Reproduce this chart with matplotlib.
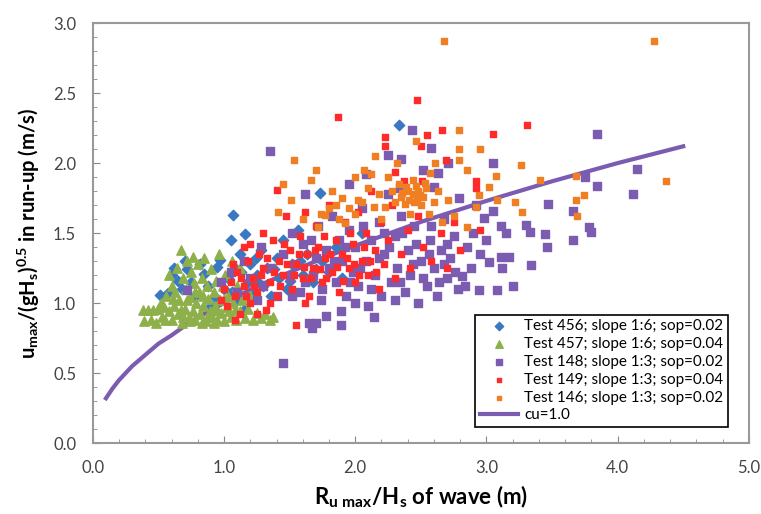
import numpy as np
import matplotlib
matplotlib.use("Agg")
import matplotlib.pyplot as plt

plt.rcParams['font.family'] = ['Lato', 'DejaVu Sans']
plt.rcParams['mathtext.fontset'] = 'custom'
plt.rcParams['mathtext.rm'] = 'Lato:bold'
plt.rcParams['mathtext.it'] = 'Lato:bold'
plt.rcParams['mathtext.bf'] = 'Lato:bold'
plt.rcParams['mathtext.default'] = 'rm'

# Test 456; slope 1:6; sop=0.02 (x, y)
test456 = np.array([
    (0.51, 1.06), (0.57, 1.07), (0.60, 1.20), (0.65, 1.16), (0.68, 1.10), (0.72, 1.24),
    (0.75, 1.15), (0.78, 1.05), (0.82, 1.28), (0.85, 1.21), (0.88, 1.12), (0.93, 1.04),
    (0.95, 1.26), (0.97, 1.31), (1.00, 1.10), (1.03, 1.18), (1.05, 1.45), (1.07, 1.63),
    (1.08, 1.25), (1.10, 1.02), (1.12, 1.35), (1.16, 1.49), (1.18, 1.15), (1.20, 1.28),
    (1.22, 1.06), (1.25, 1.20), (1.28, 1.38), (1.30, 1.12), (1.33, 1.25), (1.36, 1.05),
    (1.40, 1.32), (1.42, 1.18), (1.45, 1.45), (1.48, 1.10), (1.52, 1.28), (1.56, 1.52),
    (1.60, 1.20), (1.63, 1.35), (1.68, 1.15), (1.73, 1.79), (1.75, 1.30), (1.80, 1.22),
    (1.85, 1.40), (1.90, 1.18), (2.05, 1.50), (2.33, 2.27), (0.90, 0.98), (1.15, 0.95),
    (0.70, 1.30), (0.62, 1.25), (1.13, 1.22), (1.27, 1.14), (1.38, 1.24), (1.50, 1.16),
    (1.58, 1.30), (1.70, 1.24), (1.06, 1.08), (1.24, 1.32),
])

# Test 457; slope 1:6; sop=0.04
test457 = np.array([
    (0.38, 0.95), (0.39, 0.87), (0.42, 0.95), (0.44, 0.88), (0.46, 0.95), (0.48, 0.86),
    (0.50, 0.96), (0.52, 1.00), (0.53, 0.90), (0.55, 0.88), (0.56, 1.05), (0.58, 0.94),
    (0.60, 1.12), (0.60, 0.88), (0.62, 0.98), (0.63, 1.08), (0.65, 0.92), (0.66, 1.02),
    (0.67, 1.38), (0.68, 0.86), (0.69, 1.18), (0.70, 0.96), (0.71, 1.10), (0.72, 1.30),
    (0.73, 0.90), (0.74, 1.04), (0.75, 1.22), (0.76, 0.94), (0.77, 1.14), (0.78, 0.88),
    (0.79, 1.00), (0.80, 1.28), (0.81, 1.08), (0.82, 0.92), (0.83, 1.18), (0.84, 0.98),
    (0.85, 1.32), (0.86, 0.87), (0.87, 1.12), (0.88, 1.03), (0.89, 0.94), (0.90, 1.24),
    (0.91, 0.90), (0.92, 1.08), (0.93, 0.98), (0.94, 1.16), (0.95, 0.88), (0.96, 1.35),
    (0.97, 1.02), (0.98, 0.93), (0.99, 1.12), (1.00, 0.87), (1.01, 1.20), (1.02, 0.97),
    (1.03, 1.05), (1.05, 0.90), (1.06, 1.30), (1.07, 1.00), (1.09, 0.88), (1.10, 1.12),
    (1.12, 0.94), (1.14, 1.02), (1.16, 0.89), (1.18, 0.96), (1.20, 1.05), (1.22, 0.88),
    (1.25, 0.93), (1.28, 0.89), (1.31, 0.92), (1.35, 0.88), (1.37, 0.90), (0.64, 1.25),
    (0.58, 1.20), (0.76, 1.33), (0.69, 0.90), (0.83, 0.86), (0.92, 0.86), (1.12, 1.25),
    (0.54, 0.97), (0.61, 1.03), (0.67, 0.95), (0.72, 1.02), (0.78, 1.08), (0.84, 1.05),
    (0.88, 0.90), (0.95, 0.95), (1.00, 1.03), (1.04, 0.94), (1.08, 0.95), (0.74, 0.87),
])

# Test 148; slope 1:3; sop=0.02
test148 = np.array([
    (0.72, 1.09), (0.98, 1.15), (1.05, 1.22), (1.10, 1.08), (1.15, 1.30), (1.20, 1.18),
    (1.25, 1.02), (1.28, 1.40), (1.30, 1.12), (1.35, 2.09), (1.35, 1.25), (1.40, 1.05),
    (1.45, 0.57), (1.45, 1.35), (1.50, 1.18), (1.52, 1.50), (1.55, 1.28), (1.58, 1.08),
    (1.60, 1.42), (1.62, 1.78), (1.65, 0.86), (1.67, 0.82), (1.68, 1.20), (1.70, 0.86),
    (1.70, 1.32), (1.72, 1.55), (1.75, 1.10), (1.78, 0.91), (1.78, 1.38), (1.80, 1.25),
    (1.82, 1.62), (1.85, 1.15), (1.88, 1.45), (1.89, 0.94), (1.89, 0.84), (1.90, 1.30),
    (1.93, 1.05), (1.95, 1.52), (1.98, 1.22), (2.00, 1.40), (2.02, 1.12), (2.05, 1.68),
    (2.08, 1.30), (2.10, 0.98), (2.12, 1.45), (2.14, 0.90), (2.15, 1.20), (2.18, 1.58),
    (2.20, 1.05), (2.22, 1.35), (2.25, 1.78), (2.27, 1.15), (2.30, 1.48), (2.32, 1.25),
    (2.35, 1.62), (2.38, 1.08), (2.40, 1.38), (2.42, 1.20), (2.45, 1.55), (2.48, 1.00),
    (2.50, 1.30), (2.52, 1.95), (2.55, 1.12), (2.57, 1.45), (2.60, 1.25), (2.62, 1.05),
    (2.65, 1.38), (2.68, 1.60), (2.70, 1.18), (2.72, 1.32), (2.75, 1.48), (2.78, 1.10),
    (2.81, 1.19), (2.85, 1.40), (2.88, 1.25), (2.92, 1.70), (2.94, 1.09), (2.95, 1.35),
    (3.02, 1.29), (3.08, 1.09), (3.11, 1.33), (3.15, 1.50), (3.17, 1.33), (3.20, 1.12),
    (3.30, 1.56), (3.33, 1.51), (3.34, 1.27), (3.45, 1.49), (3.46, 1.40), (3.47, 1.71),
    (3.66, 1.66), (3.66, 1.45), (3.75, 1.90), (3.78, 1.54), (3.80, 1.51), (3.84, 2.21),
    (3.84, 1.84), (4.12, 1.78), (4.15, 1.96), (2.08, 1.92), (1.95, 1.85), (2.60, 1.83),
    (2.43, 2.24), (2.58, 2.11), (2.25, 2.06), (2.35, 2.03), (3.05, 2.00), (2.79, 1.75),
    (2.63, 1.93), (2.71, 2.00), (2.34, 1.82), (2.98, 1.61), (3.11, 1.55), (3.05, 1.66),
    (1.52, 1.05), (1.62, 1.15), (1.74, 1.02), (1.84, 1.30), (1.96, 1.15), (2.04, 1.25),
    (2.12, 1.10), (2.18, 1.32), (2.26, 1.40), (2.34, 1.15), (2.44, 1.28), (2.52, 1.18),
    (2.56, 1.35), (2.64, 1.15), (2.68, 1.28), (2.76, 1.22), (2.84, 1.12), (2.90, 1.50),
    (2.46, 1.42), (2.36, 1.50), (2.22, 1.50), (2.06, 1.55), (1.92, 1.40), (1.66, 1.45),
    (2.58, 1.55), (2.70, 1.42), (3.00, 1.45), (3.12, 1.25), (2.30, 1.02), (2.00, 1.00),
])

# Test 149; slope 1:3; sop=0.04
test149 = np.array([
    (0.98, 1.02), (1.00, 1.10), (1.02, 0.98), (1.05, 1.15), (1.08, 1.05), (1.10, 1.22),
    (1.12, 0.92), (1.15, 1.12), (1.18, 1.30), (1.20, 1.00), (1.20, 1.42), (1.22, 1.18),
    (1.25, 1.08), (1.27, 1.35), (1.30, 1.25), (1.32, 0.95), (1.35, 1.15), (1.37, 1.45),
    (1.40, 1.81), (1.40, 1.05), (1.42, 1.30), (1.45, 1.20), (1.47, 1.62), (1.50, 1.38),
    (1.52, 1.10), (1.55, 0.84), (1.55, 1.28), (1.58, 1.48), (1.60, 1.18), (1.62, 1.65),
    (1.63, 1.35), (1.65, 1.05), (1.68, 1.25), (1.70, 1.55), (1.72, 1.40), (1.75, 1.15),
    (1.77, 1.32), (1.80, 1.70), (1.82, 1.22), (1.85, 1.45), (1.87, 2.33), (1.88, 1.08),
    (1.90, 1.35), (1.92, 1.58), (1.95, 1.25), (1.98, 1.42), (2.00, 1.15), (2.02, 1.65),
    (2.05, 1.30), (2.08, 1.50), (2.10, 1.20), (2.12, 1.80), (2.15, 1.38), (2.18, 1.10),
    (2.20, 1.58), (2.22, 1.28), (2.23, 2.19), (2.23, 2.12), (2.25, 1.45), (2.28, 1.70),
    (2.30, 1.18), (2.30, 1.94), (2.35, 1.35), (2.37, 1.87), (2.40, 1.52), (2.42, 1.25),
    (2.47, 2.45), (2.48, 1.62), (2.50, 2.12), (2.51, 1.87), (2.52, 1.40), (2.55, 2.20),
    (2.58, 1.30), (2.65, 1.50), (2.66, 2.24), (2.69, 2.02), (2.70, 1.25), (2.75, 1.58),
    (2.80, 1.38), (2.92, 1.87), (2.92, 1.82), (2.95, 1.52), (3.05, 2.21), (3.31, 2.27),
    (1.30, 1.50), (1.15, 1.40), (1.07, 1.28), (1.13, 1.18), (1.23, 1.12), (1.28, 1.20),
    (1.33, 1.32), (1.38, 1.22), (1.43, 1.12), (1.48, 1.28), (1.53, 1.20), (1.57, 1.35),
    (1.61, 1.26), (1.66, 1.18), (1.69, 1.38), (1.73, 1.24), (1.78, 1.18), (1.81, 1.35),
    (1.86, 1.26), (1.91, 1.16), (1.94, 1.32), (1.99, 1.28), (2.03, 1.20), (2.07, 1.40),
    (2.11, 1.30), (2.16, 1.22), (1.17, 1.05), (1.35, 1.00), (1.62, 1.00), (1.46, 1.42),
    (1.76, 1.48), (1.96, 1.50), (1.25, 0.92), (1.08, 0.88),
])

# Test 146; slope 1:3; sop=0.02
test146 = np.array([
    (1.41, 1.65), (1.51, 1.74), (1.53, 2.02), (1.60, 1.60), (1.66, 1.88), (1.72, 1.54),
    (1.74, 1.64), (1.77, 1.63), (1.82, 1.80), (1.85, 1.70), (1.90, 1.75), (1.92, 1.57),
    (1.95, 1.68), (2.00, 1.64), (2.02, 1.74), (2.05, 1.72), (2.07, 1.95), (2.10, 1.82),
    (2.14, 1.69), (2.18, 1.78), (2.20, 1.60), (2.23, 1.69), (2.25, 1.90), (2.28, 1.80),
    (2.30, 1.72), (2.33, 1.85), (2.35, 1.76), (2.38, 1.71), (2.40, 1.80), (2.42, 1.64),
    (2.44, 1.78), (2.46, 1.84), (2.46, 2.16), (2.47, 1.74), (2.48, 1.80), (2.50, 1.70),
    (2.52, 1.76), (2.54, 1.82), (2.56, 1.64), (2.57, 1.93), (2.60, 1.72), (2.61, 2.00),
    (2.63, 1.80), (2.66, 1.58), (2.68, 2.87), (2.71, 1.74), (2.75, 1.62), (2.79, 2.24),
    (2.79, 2.10), (2.79, 2.02), (2.85, 1.95), (2.85, 1.54), (2.92, 1.69), (2.94, 1.77),
    (2.95, 2.10), (3.02, 1.83), (3.07, 1.91), (3.08, 1.74), (3.22, 1.72), (3.26, 1.99),
    (3.27, 1.65), (3.41, 1.88), (3.68, 1.91), (3.68, 1.74), (3.69, 1.62), (3.74, 1.77),
    (4.28, 2.87), (4.37, 1.87), (1.45, 1.85), (1.70, 1.95), (2.15, 2.05), (2.00, 1.90),
    (1.88, 1.60), (2.36, 1.79), (2.41, 1.74), (2.45, 1.72), (2.49, 1.77), (2.53, 1.86),
    (2.39, 1.83), (2.44, 1.88), (2.32, 2.00), (2.12, 1.92), (1.80, 1.68),
])

# cu=1.0 curve
cu_x = [0.10, 0.15, 0.20, 0.25, 0.30, 0.40, 0.50, 0.60, 0.75, 0.90, 1.00, 1.25, 1.50,
        1.75, 2.00, 2.50, 3.00, 3.50, 4.00, 4.50]
cu_y = [0.32, 0.39, 0.45, 0.50, 0.55, 0.63, 0.71, 0.77, 0.87, 0.95, 1.00, 1.12, 1.22,
        1.32, 1.41, 1.58, 1.73, 1.87, 2.00, 2.12]

labels = ["Test 456; slope 1:6; sop=0.02", "Test 457; slope 1:6; sop=0.04",
          "Test 148; slope 1:3; sop=0.02", "Test 149; slope 1:3; sop=0.04",
          "Test 146; slope 1:3; sop=0.02", "cu=1.0"]

fig = plt.figure(figsize=(7.61, 5.14), dpi=100)
ax = fig.add_axes([0.122, 0.138, 0.862, 0.817])

ax.scatter(test456[:, 0], test456[:, 1], marker='D', s=28, color='#3a78c2', label=labels[0], zorder=3)
ax.scatter(test457[:, 0], test457[:, 1], marker='^', s=45, color='#8db04a', label=labels[1], zorder=3)
ax.scatter(test148[:, 0], test148[:, 1], marker='s', s=30, color='#7b5cb0', label=labels[2], zorder=3)
ax.scatter(test149[:, 0], test149[:, 1], marker='s', s=16, color='#ff2a2a', label=labels[3], zorder=3)
ax.scatter(test146[:, 0], test146[:, 1], marker='s', s=16, color='#f07f24', label=labels[4], zorder=3)
# the curve sits behind the markers, as in the original
ax.plot(cu_x, cu_y, color='#7b5cb0', lw=3, label=labels[5], zorder=2)

ax.set_xlim(0, 5)
ax.set_ylim(0, 3)
ax.set_xticks(np.arange(0, 5.01, 1.0))
ax.set_yticks(np.arange(0, 3.01, 0.5))
ax.set_xticks(np.arange(0, 5.01, 0.2), minor=True)
ax.set_yticks(np.arange(0, 3.01, 0.1), minor=True)
ax.xaxis.set_major_formatter(matplotlib.ticker.FormatStrFormatter('%.1f'))
ax.yaxis.set_major_formatter(matplotlib.ticker.FormatStrFormatter('%.1f'))
ax.tick_params(which='both', direction='in', colors='#888888', labelcolor='#444444', labelsize=12)
ax.tick_params(which='major', length=5, pad=12)
ax.tick_params(which='minor', length=3)
for sp in ax.spines.values():
    sp.set_color('#999999')
    sp.set_linewidth(1.5)

ax.set_xlabel(r'R$_{u\ max}$/H$_s$ of wave (m)', fontsize=16, fontweight='bold', labelpad=6)
ax.set_ylabel(r'u$_{max}$/(gH$_s$)$^{0.5}$ in run-up (m/s)', fontsize=14.5, fontweight='bold', labelpad=8)

leg = ax.legend(loc='lower right', bbox_to_anchor=(0.98, 0.02), fontsize=11, fancybox=False,
                edgecolor='black', framealpha=1, borderpad=0.3, labelspacing=0.25,
                handlelength=2.5, handletextpad=0.4, markerscale=0.8)
leg.get_frame().set_linewidth(1.2)

plt.savefig('out.png', dpi=100)
